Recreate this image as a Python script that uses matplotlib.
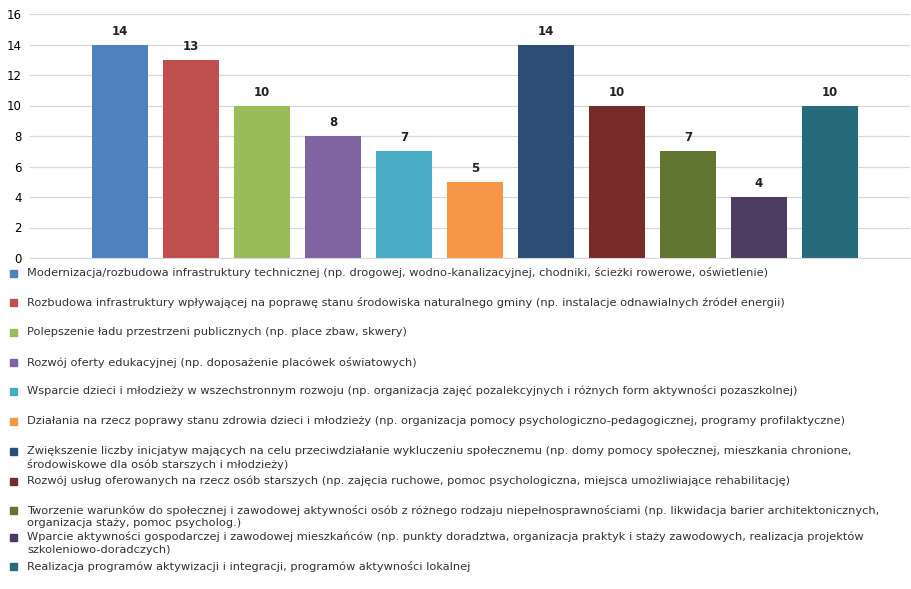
import matplotlib.pyplot as plt
from matplotlib.patches import Rectangle

plt.rcParams["font.family"] = ["DejaVu Sans"]

labels = [
    "Modernizacja/rozbudowa infrastruktury technicznej (np. drogowej, wodno-kanalizacyjnej, chodniki, ścieżki rowerowe, oświetlenie)",
    "Rozbudowa infrastruktury wpływającej na poprawę stanu środowiska naturalnego gminy (np. instalacje odnawialnych źródeł energii)",
    "Polepszenie ładu przestrzeni publicznych (np. place zbaw, skwery)",
    "Rozwój oferty edukacyjnej (np. doposażenie placówek oświatowych)",
    "Wsparcie dzieci i młodzieży w wszechstronnym rozwoju (np. organizacja zajęć pozalekcyjnych i różnych form aktywności pozaszkolnej)",
    "Działania na rzecz poprawy stanu zdrowia dzieci i młodzieży (np. organizacja pomocy psychologiczno-pedagogicznej, programy profilaktyczne)",
    "Zwiększenie liczby inicjatyw mających na celu przeciwdziałanie wykluczeniu społecznemu (np. domy pomocy społecznej, mieszkania chronione,\nśrodowiskowe dla osób starszych i młodzieży)",
    "Rozwój usług oferowanych na rzecz osób starszych (np. zajęcia ruchowe, pomoc psychologiczna, miejsca umożliwiające rehabilitację)",
    "Tworzenie warunków do społecznej i zawodowej aktywności osób z różnego rodzaju niepełnosprawnościami (np. likwidacja barier architektonicznych,\norganizacja staży, pomoc psycholog.)",
    "Wparcie aktywności gospodarczej i zawodowej mieszkańców (np. punkty doradztwa, organizacja praktyk i staży zawodowych, realizacja projektów\nszkoleniowo-doradczych)",
    "Realizacja programów aktywizacji i integracji, programów aktywności lokalnej",
]
values = [14, 13, 10, 8, 7, 5, 14, 10, 7, 4, 10]
colors = ["#4F81BD", "#C0504D", "#9BBB59", "#8064A2", "#4BACC6", "#F79646",
          "#2C4D75", "#772C2A", "#5F7530", "#4D3B62", "#276A7C"]

fig = plt.figure(figsize=(9.11, 5.89), dpi=100)
ax = fig.add_axes([30 / 911, 1 - 258 / 589, 880 / 911, 244 / 589])

x = list(range(len(values)))
bars = ax.bar(x, values, width=0.79, color=colors, zorder=2)
for xi, v in zip(x, values):
    ax.text(xi, v + 0.45, str(v), ha="center", va="bottom", fontsize=8.5,
            fontweight="bold", color="#222222")

ax.set_ylim(0, 16)
ax.set_xlim(-1.27, 11.13)
ax.set_yticks(range(0, 17, 2))
ax.tick_params(axis="y", length=0, labelsize=8.5, pad=6)
ax.set_xticks([])
ax.grid(axis="y", color="#D9D9D9", linewidth=0.9, zorder=0)
for s in ["top", "right", "left"]:
    ax.spines[s].set_visible(False)
ax.spines["bottom"].set_color("#D9D9D9")

# legend below the chart
ys = [273, 302, 332, 362, 391, 421, 451, 481, 510, 537, 566]
for lab, c, y in zip(labels, colors, ys):
    fig.patches.append(Rectangle((10 / 911, 1 - (y + 4) / 589), 7 / 911, 7 / 589,
                                 transform=fig.transFigure, color=c))
    for k, line in enumerate(lab.split("\n")):
        fig.text(27 / 911, 1 - (y + 13 * k) / 589, line, fontsize=8.2,
                 va="center", ha="left", color="#333333")

fig.savefig("out.png", dpi=100)
